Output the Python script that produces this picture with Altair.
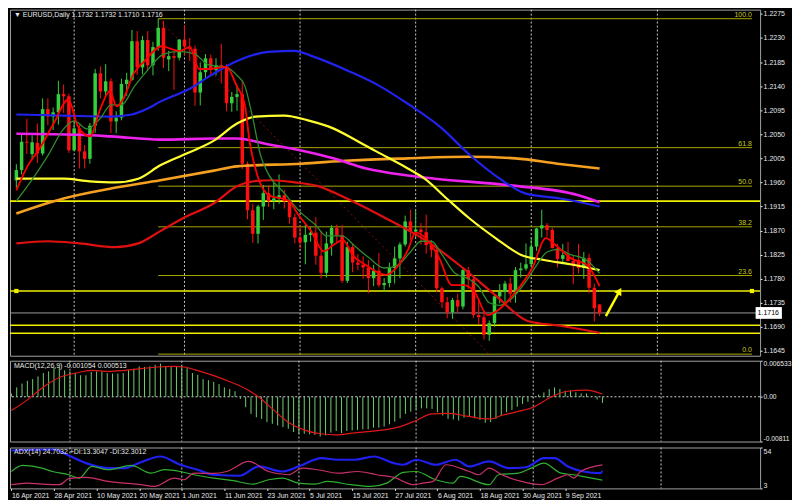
import altair as alt
import pandas as pd

# ------------------------------------------------------------------ data
opens = [1.1964,1.1983,1.2036,1.2013,1.2034,1.2014,1.2097,1.2083,1.2091,1.2125,
         1.2121,1.2020,1.2061,1.2018,1.2004,1.2066,1.2164,1.2130,1.2149,1.2074,
         1.2081,1.2144,1.2152,1.2224,1.2175,1.2226,1.2179,1.2213,1.2249,1.2190,
         1.2196,1.2193,1.2227,1.2214,1.2210,1.2128,1.2166,1.2192,1.2170,1.2179,
         1.2174,1.2108,1.2120,1.2125,1.1995,1.1908,1.1864,1.1915,1.1940,1.1925,
         1.1930,1.1936,1.1925,1.1895,1.1857,1.1848,1.1862,1.1866,1.1823,1.1791,
         1.1846,1.1875,1.1861,1.1776,1.1839,1.1810,1.1806,1.1801,1.1781,1.1795,
         1.1768,1.1772,1.1800,1.1818,1.1844,1.1887,1.1868,1.1872,1.1867,1.1843,
         1.1834,1.1762,1.1736,1.1717,1.1740,1.1728,1.1796,1.1779,1.1712,1.1708,
         1.1675,1.1697,1.1747,1.1755,1.1771,1.1752,1.1796,1.1799,1.1807,1.1840,
         1.1874,1.1880,1.1871,1.1837,1.1817,1.1824,1.1813,1.1815,1.1800,1.1819,
         1.1763,1.1732]
highs = [1.1994,1.2049,1.2079,1.2048,1.2070,1.2117,1.2117,1.2100,1.2150,1.2143,
         1.2126,1.2076,1.2067,1.2030,1.2071,1.2172,1.2177,1.2181,1.2155,1.2093,
         1.2154,1.2165,1.2245,1.2243,1.2234,1.2243,1.2223,1.2266,1.2262,1.2206,
         1.2203,1.2228,1.2254,1.2230,1.2216,1.2184,1.2200,1.2199,1.2192,1.2219,
         1.2181,1.2129,1.2141,1.2150,1.1999,1.1920,1.1918,1.1955,1.1955,1.1960,
         1.1975,1.1946,1.1929,1.1902,1.1880,1.1882,1.1876,1.1895,1.1869,1.1868,
         1.1880,1.1881,1.1880,1.1849,1.1847,1.1826,1.1822,1.1815,1.1806,1.1828,
         1.1781,1.1810,1.1840,1.1848,1.1898,1.1909,1.1908,1.1884,1.1900,1.1852,
         1.1842,1.1765,1.1746,1.1744,1.1752,1.1800,1.1802,1.1786,1.1741,1.1720,
         1.1702,1.1750,1.1770,1.1776,1.1782,1.1802,1.1810,1.1846,1.1856,1.1875,
         1.1909,1.1884,1.1875,1.1845,1.1845,1.1849,1.1823,1.1845,1.1830,1.1827,
         1.1771,1.1732]
lows = [1.1950,1.1975,1.2013,1.2003,1.1996,1.2010,1.2067,1.2058,1.2068,1.2090,
        1.2015,1.2018,1.1986,1.1986,1.1995,1.2053,1.2117,1.2120,1.2052,1.2052,
        1.2076,1.2122,1.2150,1.2161,1.2162,1.2170,1.2160,1.2206,1.2174,1.2168,
        1.2133,1.2188,1.2197,1.2187,1.2103,1.2104,1.2154,1.2160,1.2160,1.2146,
        1.2093,1.2092,1.2094,1.1985,1.1891,1.1847,1.1846,1.1890,1.1914,1.1910,
        1.1920,1.1911,1.1883,1.1846,1.1836,1.1807,1.1849,1.1806,1.1781,1.1782,
        1.1823,1.1846,1.1772,1.1772,1.1792,1.1796,1.1780,1.1753,1.1766,1.1764,
        1.1755,1.1764,1.1771,1.1781,1.1840,1.1853,1.1858,1.1844,1.1827,1.1820,
        1.1755,1.1726,1.1706,1.1705,1.1717,1.1723,1.1761,1.1707,1.1694,1.1666,
        1.1664,1.1690,1.1734,1.1734,1.1735,1.1735,1.1782,1.1795,1.1801,1.1832,
        1.1857,1.1858,1.1837,1.1801,1.1807,1.1815,1.1770,1.1790,1.1780,1.1753,
        1.1700,1.1710]
closes = [1.1983,1.2036,1.2034,1.2035,1.2014,1.2097,1.2083,1.2091,1.2125,1.2121,
          1.2020,1.2061,1.2018,1.2004,1.2066,1.2164,1.2130,1.2149,1.2074,1.2081,
          1.2144,1.2152,1.2224,1.2175,1.2226,1.2179,1.2213,1.2249,1.2193,1.2196,
          1.2193,1.2227,1.2214,1.2210,1.2128,1.2166,1.2192,1.2170,1.2179,1.2174,
          1.2108,1.2120,1.2125,1.1995,1.1908,1.1864,1.1915,1.1940,1.1925,1.1930,
          1.1936,1.1925,1.1895,1.1857,1.1848,1.1862,1.1866,1.1823,1.1791,1.1846,
          1.1875,1.1861,1.1776,1.1839,1.1810,1.1806,1.1801,1.1781,1.1795,1.1768,
          1.1772,1.1800,1.1818,1.1844,1.1887,1.1868,1.1872,1.1867,1.1843,1.1834,
          1.1762,1.1736,1.1717,1.1740,1.1728,1.1796,1.1779,1.1712,1.1708,1.1675,
          1.1697,1.1747,1.1755,1.1771,1.1752,1.1796,1.1799,1.1807,1.1840,1.1874,
          1.1880,1.1871,1.1837,1.1817,1.1824,1.1813,1.1805,1.1800,1.1819,1.1763,
          1.1725,1.1716]

# moving averages (bar index, price)
blue_i = [0, 9, 18, 22, 25, 27.4, 30, 33, 37, 42, 48, 53, 56, 63.5, 69, 74.5, 81, 86, 92, 97, 103.5, 111]
blue_v = [1.2087, 1.2085, 1.2083, 1.2087, 1.2098, 1.2111, 1.2122, 1.2135, 1.2160, 1.2187, 1.2204, 1.2206,
          1.2197, 1.2167, 1.2141, 1.2107, 1.2061, 1.2014, 1.1967, 1.1939, 1.1930, 1.1915]
mag_i = [0, 12, 18, 27.4, 37.6, 42, 48, 54, 60.3, 66.6, 74.5, 79.7, 94.5, 107, 111]
mag_v = [1.2051, 1.2049, 1.2046, 1.2040, 1.2042, 1.2042, 1.2031, 1.2020, 1.2005, 1.1986, 1.1973,
         1.1967, 1.1954, 1.1936, 1.1923]
yel_i = [0, 9, 14, 18.8, 23.2, 27.4, 32.4, 37.6, 42, 45.5, 51, 55.5, 60.3, 64.8, 68.5, 74.5, 77.7,
         81.9, 86.2, 91.2, 96.2, 100.4, 105.4, 111]
yel_v = [1.1967, 1.1967, 1.1962, 1.1960, 1.1967, 1.1992, 1.2014, 1.2038, 1.2070, 1.2083, 1.2085,
         1.2076, 1.2061, 1.2038, 1.2018, 1.1986, 1.1967, 1.1930, 1.1893, 1.1856, 1.1824, 1.1815,
         1.1807, 1.1796]
ora_i = [0, 9, 18.2, 27.4, 37.6, 42, 54.2, 63.5, 74.5, 86, 95, 103, 111]
ora_v = [1.1902, 1.1930, 1.1949, 1.1964, 1.1982, 1.1990, 1.1995, 1.2001, 1.2005, 1.2008, 1.2005,
         1.1995, 1.1986]
red_i = [0, 6, 12, 18.8, 23.2, 27.4, 31.7, 37.6, 42, 45, 48.7, 53, 57.4, 61.6, 66, 70.3, 74.5,
         78.8, 85, 91.2, 97.3, 103.5, 111]
red_v = [1.1846, 1.1850, 1.1846, 1.1839, 1.1846, 1.1869, 1.1893, 1.1921, 1.1953, 1.1962, 1.1964,
         1.1960, 1.1953, 1.1936, 1.1915, 1.1893, 1.1871, 1.1846, 1.1800, 1.1749, 1.1701, 1.1692, 1.1679]
fast_i = [0, 2.1, 4.4, 7.1, 9.9, 11.7, 14, 16, 17.8, 19.1, 20.4, 22.3, 24.3, 27.8, 29.3, 31.1, 33,
          34.8, 36.7, 40, 41.9, 43.5, 44.4, 45.5, 48.1, 51.8, 53.7, 56.1, 58.5, 60.3, 62.2, 64, 66.6,
          70.3, 72.7, 74.5, 76, 77.9, 80.5, 82.9, 85.1, 87.1, 89.7, 91.5, 94.5, 98.2, 100.8, 102.6,
          105.6, 108.7, 111]
fast_v = [1.1945, 1.1990, 1.2023, 1.2070, 1.2115, 1.2065, 1.2046, 1.2098, 1.2131, 1.2102, 1.2117,
          1.2163, 1.2186, 1.2215, 1.2210, 1.2206, 1.2213, 1.2172, 1.2172, 1.2176, 1.2141, 1.2104,
          1.2036, 1.1986, 1.1936, 1.1926, 1.1899, 1.1869, 1.1831, 1.1843, 1.1852, 1.1824, 1.1805,
          1.1787, 1.1805, 1.1833, 1.1866, 1.1856, 1.1818, 1.1768, 1.1768, 1.1757, 1.1712, 1.1720,
          1.1749, 1.1800, 1.1856, 1.1843, 1.1818, 1.1805, 1.1766]
slow_i = [0, 3, 6, 9, 11, 13.5, 16, 18, 20, 22.5, 25, 28, 31, 34, 36.5, 40, 42, 43.5, 45, 46.5, 48,
          51, 54, 57, 59, 62, 64.5, 67, 70, 72.5, 75, 77, 79, 81, 83.5, 86, 88, 90, 92, 94.5, 97, 99,
          101, 103, 105.5, 108.5, 111]
slow_v = [1.1925, 1.1965, 1.2010, 1.2060, 1.2075, 1.2060, 1.2080, 1.2105, 1.2105, 1.2140, 1.2170,
          1.2200, 1.2205, 1.2200, 1.2180, 1.2175, 1.2160, 1.2140, 1.2080, 1.2010, 1.1975, 1.1940,
          1.1905, 1.1880, 1.1860, 1.1860, 1.1840, 1.1820, 1.1800, 1.1805, 1.1830, 1.1850, 1.1850,
          1.1825, 1.1790, 1.1780, 1.1765, 1.1735, 1.1730, 1.1745, 1.1775, 1.1805, 1.1830, 1.1835,
          1.1825, 1.1815, 1.1790]

# horizontal levels
h_levels = [1.1925, 1.1757, 1.1693, 1.1678]
fib_names = ["100.0", "61.8", "50.0", "38.2", "23.6", "0.0"]
fib_prices = [1.2266, 1.2025, 1.1953, 1.1877, 1.1786, 1.1639]
fib_start, fib_end = 27, 140.0
diag_i = [27, 90]
diag_v = [1.2266, 1.1639]
bid = 1.1716
arrow_i = [112.2, 114.8]
arrow_v = [1.1710, 1.1757]
marker_i = [0, 140.0]

# MACD
macd_v = [0.0006,0.0017,0.0024,0.0029,0.0032,0.0037,0.0043,0.0046,0.0052,0.0054,
          0.0048,0.0046,0.0043,0.0039,0.0039,0.0045,0.0046,0.0046,0.0043,0.0042,
          0.0042,0.0043,0.0049,0.0051,0.0055,0.0054,0.0055,0.0058,0.0060,0.0055,
          0.0055,0.0054,0.0055,0.0052,0.0043,0.0040,0.0032,0.0030,0.0027,0.0023,
          0.0017,0.0014,0.0010,-0.0004,-0.0019,-0.0031,-0.0037,-0.0040,-0.0046,-0.0049,
          -0.0052,-0.0055,-0.0058,-0.0064,-0.0067,-0.0067,-0.0068,-0.0069,-0.0072,-0.0070,
          -0.0065,-0.0062,-0.0066,-0.0062,-0.0061,-0.0060,-0.0059,-0.0059,-0.0056,-0.0056,
          -0.0054,-0.0050,-0.0045,-0.0039,-0.0031,-0.0027,-0.0023,-0.0021,-0.0021,-0.0022,
          -0.0028,-0.0034,-0.0040,-0.0041,-0.0043,-0.0038,-0.0035,-0.0039,-0.0042,-0.0047,
          -0.0046,-0.0040,-0.0034,-0.0028,-0.0024,-0.0018,-0.0013,-0.0009,-0.0002,0.0004,
          0.0008,0.0014,0.0017,0.0014,0.0011,0.0011,0.0008,0.0006,0.0006,0.0001,
          -0.0005,-0.0011]
sig_i = [0, 2.8, 5.9, 9, 12.1, 15.1, 18.2, 21.3, 24.4, 27.4, 30.5, 32.4, 35.5, 39.8, 44.1, 46.5, 49,
         52, 55.2, 58, 61, 64, 67, 70, 73, 76, 79, 82, 85, 88, 90, 92, 95, 98, 101.3, 104.4, 108, 111]
sig_v = [-0.0025, -0.0007, 0.0017, 0.0035, 0.0043, 0.0048, 0.0046, 0.0048, 0.0051, 0.0054, 0.0055,
         0.0054, 0.0046, 0.0032, 0.0014, -0.0001, -0.0022, -0.0046, -0.0061, -0.0067, -0.0069,
         -0.0066, -0.0063, -0.0060, -0.0054, -0.0043, -0.0031, -0.0030, -0.0034, -0.0039, -0.0040,
         -0.0034, -0.0027, -0.0019, -0.0001, 0.0010, 0.0012, 0.0005]

# ADX
adx_i = [0, 8, 10.5, 14, 18.2, 21.3, 24.3, 28, 31.7, 34.8, 38, 42.8, 46.5, 50.9, 53.9, 58.3, 61.3,
         64.4, 68.1, 71.8, 73.6, 76, 79.7, 83.4, 86, 89.7, 93.4, 96.7, 100, 102, 104.5, 107.4, 110.6, 111]
adx_v = [50.3, 51.5, 44.9, 34.5, 28.3, 28.3, 35.7, 42.8, 32.5, 26.6, 20.0, 18.8, 30.4, 24.1, 30.4,
         40.7, 38.7, 38.7, 42.8, 34.5, 32.5, 38.7, 32.5, 38.7, 30.4, 36.6, 28.3, 29.4, 40.7, 40.7,
         30.4, 24.1, 22.0, 24.7]
pdi_i = [0, 2.1, 5.8, 7.7, 10.8, 12.7, 15.1, 18.2, 22.5, 26.2, 28.7, 31.7, 34.3, 38, 41.7, 45.4,
         48.3, 50.9, 53.9, 57, 59.4, 63.8, 67.5, 70.5, 73.6, 76, 79.7, 82.9, 84.3, 89.7, 91.5, 95.2,
         97.6, 100, 103.2, 105.6, 108.2, 111]
pdi_v = [24.1, 31.6, 28.3, 24.1, 20.0, 15.8, 30.4, 26.3, 31.6, 22.0, 26.3, 24.1, 20.0, 15.8, 12.6,
         8.3, 13.8, 15.8, 9.6, 8.3, 11.7, 7.6, 5.5, 9.6, 22.9, 24.1, 13.8, 9.6, 17.9, 7.6, 20.0, 22.0,
         28.3, 34.5, 22.0, 20.0, 16.7, 13.3]
mdi_i = [0, 2.9, 5.8, 9, 10.8, 14, 18.2, 24.3, 26.9, 30.6, 32.4, 34.3, 38, 40.4, 44.6, 48.3, 52,
         54.6, 57.5, 61.3, 65, 68.6, 72.3, 73.6, 75.5, 77.3, 79.2, 81.6, 86, 87.8, 89.7, 92.1, 95.8,
         99.5, 102.6, 104.5, 105.6, 106.9, 111]
mdi_v = [7.6, 9.6, 8.3, 7.6, 15.1, 16.7, 11.7, 7.6, 5.5, 15.8, 13.8, 22.0, 21.7, 24.1, 36.6, 24.1,
         20.0, 28.3, 26.3, 22.0, 24.1, 20.0, 15.8, 11.7, 7.6, 9.6, 11.7, 32.5, 24.1, 20.0, 28.3, 20.0,
         11.7, 7.6, 15.8, 20.0, 15.8, 24.1, 32.3]

# axes / labels
label_idx = [0, 8, 16, 24, 32, 40, 48, 56, 64, 72, 80, 88, 96, 104]
label_txt = ["16 Apr 2021", "28 Apr 2021", "10 May 2021", "20 May 2021", "1 Jun 2021",
             "11 Jun 2021", "23 Jun 2021", "5 Jul 2021", "15 Jul 2021", "27 Jul 2021",
             "6 Aug 2021", "18 Aug 2021", "30 Aug 2021", "9 Sep 2021"]
month_idx = [11, 32, 54, 76, 98, 122]
price_ticks = [1.1645, 1.1690, 1.1735, 1.1780, 1.1825, 1.1870, 1.1915, 1.1960, 1.2005,
               1.2050, 1.2095, 1.2140, 1.2185, 1.2230, 1.2275]
macd_ticks = [-0.00811, 0.0, 0.006533]
macd_tick_txt = ["-0.00811", "0.00", "0.006533"]
adx_ticks = [3, 54]
header_txt = "\u25bc EURUSD,Daily  1.1732 1.1732 1.1710 1.1716"
macd_txt = "MACD(12,26,9) -0.001054 0.000513"
adx_txt = "ADX(14) 24.7032 +DI:13.3047 -DI:32.3012"

# ------------------------------------------------------------------ style
FONT = "Liberation Sans"
FS = 7
TXT = "#e8e8e8"
W = 752
H_MAIN, H_MACD, H_ADX = 347, 81, 41
xs = alt.Scale(domain=[-0.26, 140.6], nice=False, zero=False)
ys = alt.Scale(domain=[1.1636, 1.2283], nice=False, zero=False)
ms = alt.Scale(domain=[-0.00811, 0.006533], nice=False, zero=False)
ads = alt.Scale(domain=[3, 54], nice=False, zero=False)

ax_common = dict(orient="right", title=None, grid=False, labelColor=TXT, tickColor=TXT,
                 tickSize=2, labelPadding=1, labelFont=FONT, domain=False)
y_main_axis = alt.Axis(values=price_ticks, format=".4f", labelFontSize=FS, **ax_common)
y_macd_axis = alt.Axis(values=macd_ticks, labelFlush=True, labelFontSize=6.7,
                       labelExpr="datum.value > 0.001 ? '%s' : (datum.value < -0.001 ? '%s' : '%s')"
                       % (macd_tick_txt[2], macd_tick_txt[0], macd_tick_txt[1]), **ax_common)
y_adx_axis = alt.Axis(values=adx_ticks, labelFlush=True, format="d", labelFontSize=FS, **ax_common)
x_axis = alt.Axis(values=label_idx, title=None, grid=False, labelColor=TXT, tickColor=TXT,
                  tickSize=2, labelFont=FONT, labelFontSize=FS, labelAlign="left",
                  labelFlush=False, labelPadding=1, domain=False,
                  labelExpr="[" + ",".join("'%s'" % t for t in label_txt) + "][round(datum.value/8)]")


def xq(field="i", axis=None):
    return alt.X(field + ":Q", scale=xs, axis=axis)


def line_df(ii, vv):
    return pd.DataFrame({"i": ii, "v": vv})


# ------------------------------------------------------------------ main panel
bars = pd.DataFrame({"i": list(range(len(opens))), "o": opens, "h": highs, "l": lows, "c": closes})
bars["dir"] = ["up" if c >= o else "down" for o, c in zip(opens, closes)]
ccol = alt.Color("dir:N", scale=alt.Scale(domain=["up", "down"], range=["#34cf3c", "#ff1010"]), legend=None)

def YM(field):
    return alt.Y(field + ":Q", scale=ys, axis=y_main_axis)

grid_df = pd.DataFrame({"i": month_idx})
vgrid = alt.Chart(grid_df).mark_rule(color="#c8c8c8", strokeDash=[2, 2], strokeWidth=1).encode(x=xq())

fib_df = pd.DataFrame({"p": fib_prices, "name": fib_names, "s": fib_start, "e": fib_end})
fib_lines = alt.Chart(fib_df).mark_rule(color="#a8a800", strokeWidth=1).encode(
    x=xq("s"), x2="e:Q", y=YM("p"))
fib_text = alt.Chart(fib_df).mark_text(color="#c8c820", font=FONT, fontSize=FS, align="right",
                                       baseline="bottom", dy=-1).encode(
    x=xq("e"), y=YM("p"), text="name:N")

diag = alt.Chart(line_df(diag_i, diag_v)).mark_line(color="#8a1010", strokeDash=[2, 3],
                                                   strokeWidth=1).encode(x=xq(), y=YM("v"))

hl = alt.Chart(pd.DataFrame({"p": h_levels})).mark_rule(color="#f0f000", strokeWidth=1.6).encode(y=YM("p"))
bidline = alt.Chart(pd.DataFrame({"p": [bid]})).mark_rule(color="#9a9a9a", strokeWidth=1).encode(y=YM("p"))
markers = alt.Chart(pd.DataFrame({"i": marker_i, "p": [h_levels[1]] * 2})).mark_point(
    shape="square", filled=True, size=18, color="#f0f000", opacity=1).encode(x=xq(), y=YM("p"))

wicks = alt.Chart(bars).mark_rule(strokeWidth=1).encode(x=xq(), y=YM("l"), y2="h:Q", color=ccol)
bodies = alt.Chart(bars).mark_bar(size=3.5).encode(x=xq(), y=YM("o"), y2="c:Q", color=ccol)

def ma(ii, vv, color, w):
    return alt.Chart(line_df(ii, vv)).mark_line(color=color, strokeWidth=w, interpolate="monotone",
                                                clip=True).encode(x=xq(), y=YM("v"))

mas = [
    ma(ora_i, ora_v, "#f5a020", 2.6),
    ma(mag_i, mag_v, "#ee22ee", 2.6),
    ma(blue_i, blue_v, "#2222ee", 2.2),
    ma(yel_i, yel_v, "#ffff30", 2.2),
    ma(red_i, red_v, "#e01010", 2.2),
    ma(slow_i, slow_v, "#2e8b2e", 1.3),
    ma(fast_i, fast_v, "#ff0000", 1.8),
]

arrow = alt.Chart(line_df(arrow_i, arrow_v)).mark_line(color="#ffff00", strokeWidth=2.5).encode(
    x=xq(), y=YM("v"))
arrow_head = alt.Chart(line_df(arrow_i[1:], arrow_v[1:])).mark_point(
    shape="triangle-up", filled=True, size=70, angle=30, color="#ffff00", opacity=1).encode(
    x=xq(), y=YM("v"))

tag_df = pd.DataFrame({"a": [140.7], "b": [145.7], "p1": [bid - 0.0011], "p2": [bid + 0.0011],
                       "p": [bid], "t": ["%.4f" % bid]})
tag_rect = alt.Chart(tag_df).mark_rect(color="#ffffff", clip=False).encode(
    x=xq("a"), x2="b:Q", y=YM("p1"), y2="p2:Q")
tag_text = alt.Chart(tag_df).mark_text(color="#000000", font=FONT, fontSize=FS, align="left",
                                       dx=2, clip=False).encode(x=xq("a"), y=YM("p"), text="t:N")

header = alt.Chart(pd.DataFrame({"t": [header_txt]})).mark_text(
    color=TXT, font=FONT, fontSize=FS, align="left", baseline="middle").encode(
    x=alt.value(4), y=alt.value(5), text="t:N")

main = alt.layer(vgrid, fib_lines, diag, hl, bidline, wicks, bodies, *mas, fib_text, markers,
                 arrow, arrow_head, tag_rect, tag_text, header).properties(width=W, height=H_MAIN)

# ------------------------------------------------------------------ MACD panel
def YD(field):
    return alt.Y(field + ":Q", scale=ms, axis=y_macd_axis)

hist_df = pd.DataFrame({"i": list(range(len(macd_v))), "m": macd_v})
hist = alt.Chart(hist_df).mark_rule(color="#6fcf6f", strokeWidth=1).encode(
    x=xq(), y=YD("m"), y2=alt.datum(0))
zero = alt.Chart(pd.DataFrame({"z": [0.0]})).mark_rule(color="#d0d0d0", strokeDash=[2, 2]).encode(y=YD("z"))
sig = alt.Chart(line_df(sig_i, sig_v)).mark_line(color="#e01818", strokeWidth=1.2,
                                                 interpolate="monotone").encode(x=xq(), y=YD("v"))
vgrid_m = alt.Chart(grid_df).mark_rule(color="#c8c8c8", strokeDash=[2, 2], strokeWidth=1).encode(x=xq())
macd_label = alt.Chart(pd.DataFrame({"t": [macd_txt]})).mark_text(
    color=TXT, font=FONT, fontSize=FS, align="left", baseline="middle").encode(
    x=alt.value(4), y=alt.value(5), text="t:N")
macd = alt.layer(vgrid_m, zero, hist, sig, macd_label).properties(width=W, height=H_MACD)

# ------------------------------------------------------------------ ADX panel
def YA(field):
    return alt.Y(field + ":Q", scale=ads, axis=y_adx_axis)

xb = x_axis
def adx_line(ii, vv, color, w):
    return alt.Chart(line_df(ii, vv)).mark_line(color=color, strokeWidth=w, interpolate="monotone",
                                                clip=True).encode(x=xq(axis=xb), y=YA("v"))

vgrid_a = alt.Chart(grid_df).mark_rule(color="#c8c8c8", strokeDash=[2, 2], strokeWidth=1).encode(
    x=xq(axis=xb))
adx_label = alt.Chart(pd.DataFrame({"t": [adx_txt]})).mark_text(
    color=TXT, font=FONT, fontSize=FS, align="left", baseline="middle").encode(
    x=alt.value(4), y=alt.value(5), text="t:N")
adx = alt.layer(vgrid_a,
                adx_line(adx_i, adx_v, "#2020f0", 2.2),
                adx_line(pdi_i, pdi_v, "#30b030", 1.2),
                adx_line(mdi_i, mdi_v, "#c8306a", 1.2),
                adx_label).properties(width=W, height=H_ADX)

chart = alt.vconcat(main, macd, adx, spacing=3).resolve_scale(
    x="independent", y="independent").configure(
    background="#000000", padding={"left": 0, "top": 0, "right": 0, "bottom": 0}).configure_view(
    stroke="#a0a0a0", strokeWidth=1, fill="#000000")

chart.save("out.html", embed_options={"renderer": "svg", "actions": False})
